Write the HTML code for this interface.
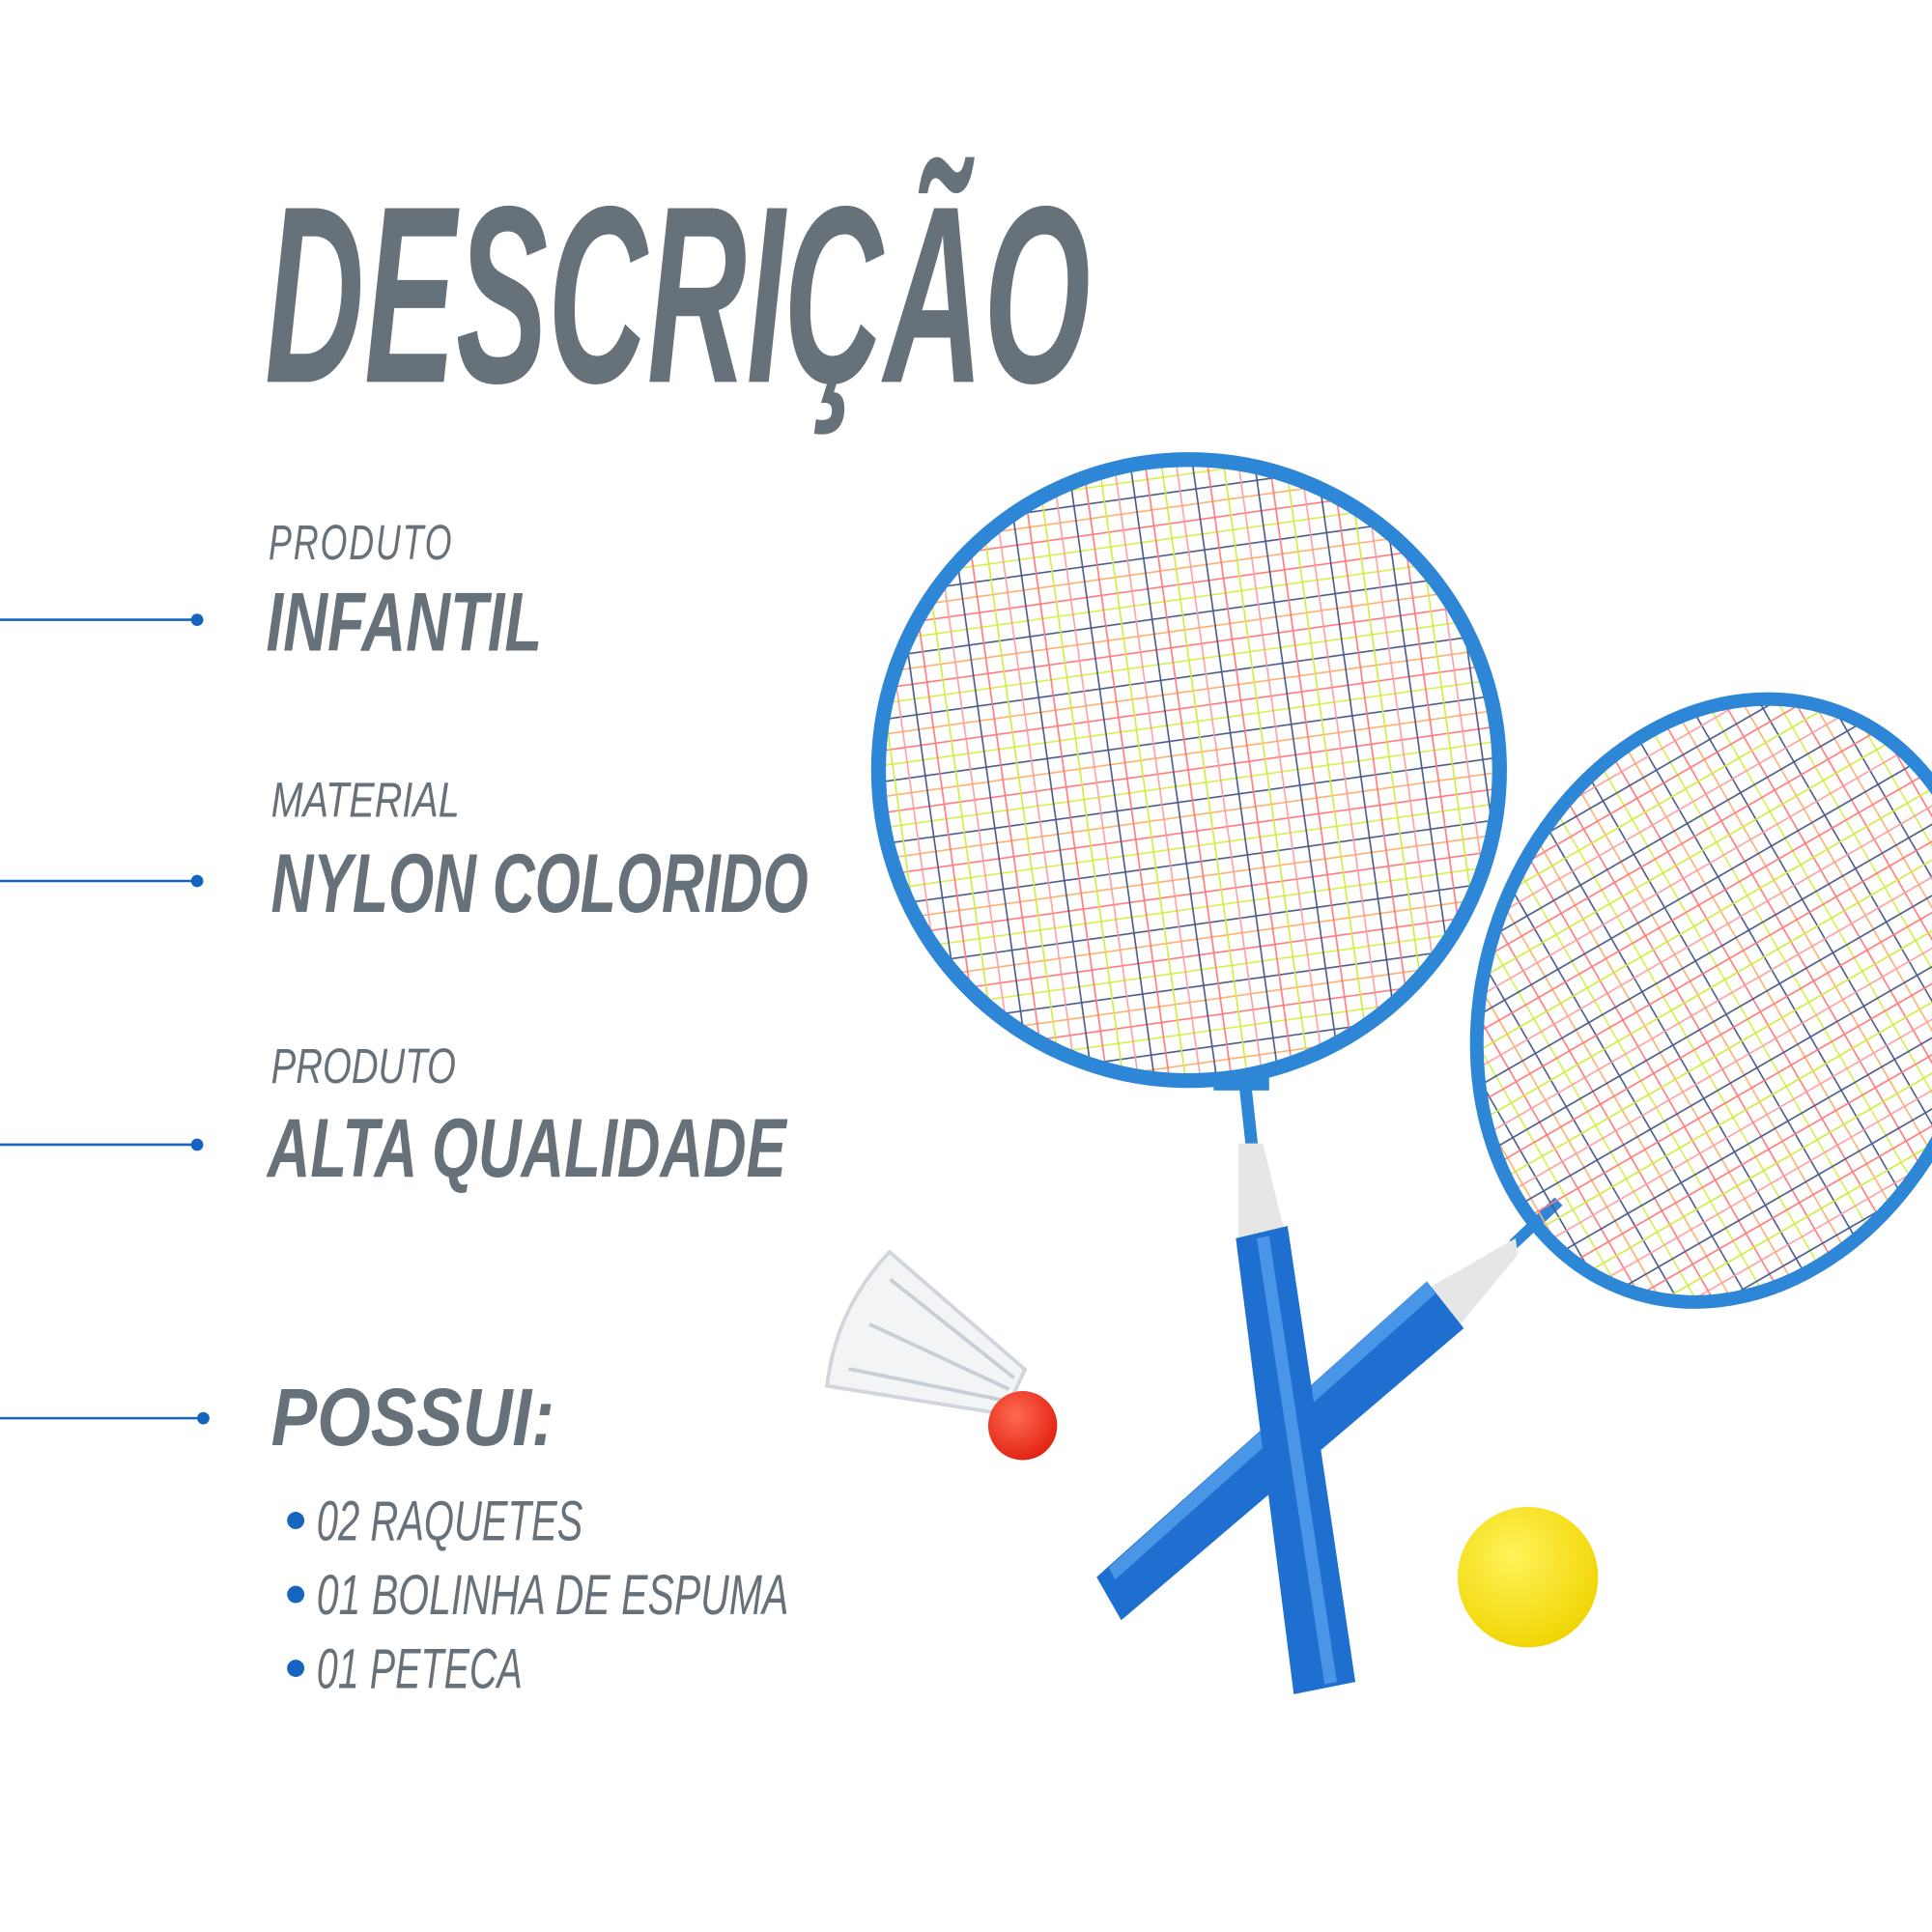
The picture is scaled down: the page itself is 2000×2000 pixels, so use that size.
<!DOCTYPE html>
<html><head><meta charset="utf-8"><style>
html,body{margin:0;padding:0;background:#fff;}
svg{display:block;}
</style></head><body>
<svg width="2000" height="2000" viewBox="0 0 1568 1568" xmlns="http://www.w3.org/2000/svg">
<defs>
<pattern id="grid1" width="50" height="50" patternUnits="userSpaceOnUse" patternTransform="rotate(-8)">
<line x1="0" y1="3" x2="50" y2="3" stroke="#ff7a7a" stroke-width="1.3"/>
<line x1="0" y1="15" x2="50" y2="15" stroke="#d8ee50" stroke-width="1.3"/>
<line x1="0" y1="28" x2="50" y2="28" stroke="#4a5a8a" stroke-width="1.3"/>
<line x1="0" y1="40" x2="50" y2="40" stroke="#ffb070" stroke-width="1.2"/>
<line x1="6" y1="0" x2="6" y2="50" stroke="#4a5a8a" stroke-width="1.3"/>
<line x1="18" y1="0" x2="18" y2="50" stroke="#ff7a7a" stroke-width="1.3"/>
<line x1="31" y1="0" x2="31" y2="50" stroke="#d0ec40" stroke-width="1.3"/>
<line x1="43" y1="0" x2="43" y2="50" stroke="#ff9a9a" stroke-width="1.2"/>
</pattern>
<pattern id="grid2" width="50" height="50" patternUnits="userSpaceOnUse" patternTransform="rotate(40)">
<line x1="0" y1="3" x2="50" y2="3" stroke="#ff7a7a" stroke-width="1.3"/>
<line x1="0" y1="15" x2="50" y2="15" stroke="#d8ee50" stroke-width="1.3"/>
<line x1="0" y1="28" x2="50" y2="28" stroke="#4a5a8a" stroke-width="1.3"/>
<line x1="0" y1="40" x2="50" y2="40" stroke="#ffb070" stroke-width="1.2"/>
<line x1="6" y1="0" x2="6" y2="50" stroke="#4a5a8a" stroke-width="1.3"/>
<line x1="18" y1="0" x2="18" y2="50" stroke="#ff7a7a" stroke-width="1.3"/>
<line x1="31" y1="0" x2="31" y2="50" stroke="#d0ec40" stroke-width="1.3"/>
<line x1="43" y1="0" x2="43" y2="50" stroke="#ff9a9a" stroke-width="1.2"/>
</pattern>
<radialGradient id="ball" cx="0.4" cy="0.35" r="0.7"><stop offset="0" stop-color="#fff35a"/><stop offset="1" stop-color="#f0d400"/></radialGradient>
<radialGradient id="cork" cx="0.4" cy="0.35" r="0.7"><stop offset="0" stop-color="#ff6a50"/><stop offset="1" stop-color="#e02010"/></radialGradient>
</defs>

<g font-family="'Liberation Sans Narrow','Liberation Sans',sans-serif" font-style="italic" fill="#67717a">
<text x="215" y="310" font-size="205" font-weight="bold" textLength="670" lengthAdjust="spacingAndGlyphs">DESCRIÇÃO</text>
<text x="218" y="454" font-size="40" textLength="150" lengthAdjust="spacingAndGlyphs" letter-spacing="2">PRODUTO</text>
<text x="216" y="528" font-size="68" font-weight="bold" textLength="224" lengthAdjust="spacingAndGlyphs">INFANTIL</text>
<text x="220" y="663" font-size="40" textLength="153" lengthAdjust="spacingAndGlyphs">MATERIAL</text>
<text x="220" y="740" font-size="68" font-weight="bold" textLength="436" lengthAdjust="spacingAndGlyphs">NYLON COLORIDO</text>
<text x="220" y="879" font-size="40" textLength="150" lengthAdjust="spacingAndGlyphs">PRODUTO</text>
<text x="217" y="955" font-size="68" font-weight="bold" textLength="421" lengthAdjust="spacingAndGlyphs">ALTA QUALIDADE</text>
<text x="220" y="1173" font-size="66" font-weight="bold" textLength="230" lengthAdjust="spacingAndGlyphs">POSSUI:</text>
<text x="257" y="1250" font-size="46" textLength="216" lengthAdjust="spacingAndGlyphs">02 RAQUETES</text>
<text x="257" y="1310" font-size="46" textLength="383" lengthAdjust="spacingAndGlyphs">01 BOLINHA DE ESPUMA</text>
<text x="257" y="1370" font-size="46" textLength="167" lengthAdjust="spacingAndGlyphs">01 PETECA</text>
</g>
<g fill="#1565c0">
<circle cx="240" cy="1234" r="7"/><circle cx="240" cy="1294" r="7"/><circle cx="240" cy="1354" r="7"/>
</g>
<g stroke="#1565c0" stroke-width="2" fill="#1565c0">
<line x1="0" y1="503" x2="160" y2="503"/><circle cx="160" cy="503" r="4"/>
<line x1="0" y1="715" x2="160" y2="715"/><circle cx="160" cy="715" r="4"/>
<line x1="0" y1="929" x2="160" y2="929"/><circle cx="160" cy="929" r="4"/>
<line x1="0" y1="1151" x2="165" y2="1151"/><circle cx="165" cy="1151" r="4"/>
</g>

<line x1="1228" y1="1010" x2="1265" y2="975" stroke="#2e86d6" stroke-width="9"/>
<polygon points="1230,1005 1160,1045 1185,1075 1232,1018" fill="#e6e6e6"/>
<polygon points="1158,1040 890,1280 910,1315 1188,1078" fill="#1e6fd0"/>
<polygon points="1158,1040 900,1272 905,1282 1165,1050" fill="#4a96e6"/>
<ellipse cx="1405" cy="812" rx="200" ry="250" transform="rotate(20 1405 812)" fill="url(#grid2)"/>
<ellipse cx="1405" cy="812" rx="200" ry="250" transform="rotate(20 1405 812)" fill="none" stroke="#2e86d6" stroke-width="11"/>

<line x1="1010" y1="875" x2="1016" y2="930" stroke="#2e86d6" stroke-width="10"/>
<rect x="985" y="870" width="45" height="15" fill="#2e86d6"/>
<polygon points="1005,928 1025,928 1045,1010 1005,1010" fill="#e6e6e6"/>
<polygon points="1003,1005 1045,995 1100,1365 1050,1375" fill="#1e6fd0"/>
<polygon points="1020,1005 1030,1003 1085,1365 1075,1367" fill="#4a96e6"/>
<circle cx="965" cy="625" r="250" fill="url(#grid1)"/>
<circle cx="965" cy="625" r="252" fill="none" stroke="#2e86d6" stroke-width="12"/>

<g transform="rotate(25 760 1100)">
<path d="M690,1040 L830,1080 L830,1120 L690,1160 Q670,1100 690,1040 Z" fill="#f2f4f6" stroke="#d0d6dc" stroke-width="3"/>
<path d="M700,1060 L825,1090 M700,1100 L825,1100 M700,1140 L825,1110" stroke="#c8ced6" stroke-width="3" fill="none"/>
</g>
<circle cx="830" cy="1157" r="28" fill="url(#cork)"/>

<circle cx="1240" cy="1280" r="57" fill="url(#ball)"/>
</svg>
</body></html>
